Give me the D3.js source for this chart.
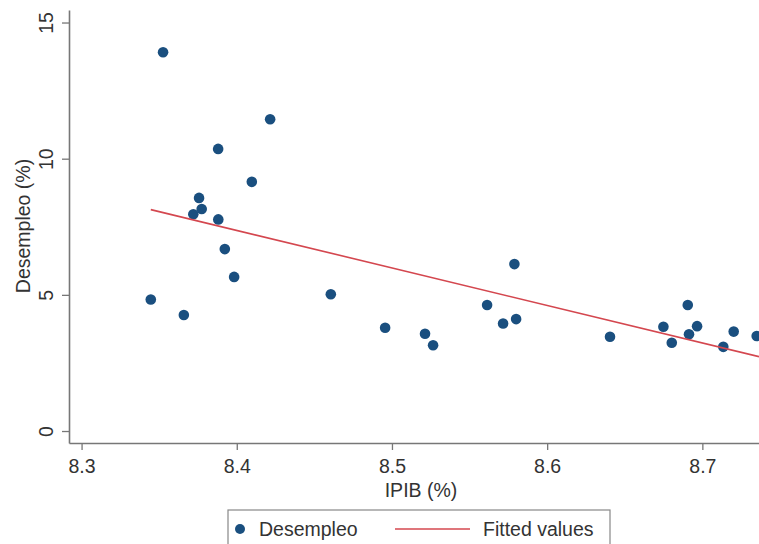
<!DOCTYPE html>
<html>
<head>
<meta charset="utf-8">
<script src="https://cdn.jsdelivr.net/npm/d3@7"></script>
<style>
  html, body { margin: 0; padding: 0; background: #fff; }
  svg { display: block; font-family: "Liberation Sans", Arial, sans-serif; }
</style>
</head>
<body>
<svg id="chart" width="759" height="544"></svg>
<script>
// Data
const ipib = [8.3525, 8.4215, 8.3880, 8.4097, 8.3757, 8.3774, 8.3720, 8.3881, 8.3923, 8.3983,
              8.3446, 8.3659, 8.4606, 8.4956, 8.5213, 8.5265, 8.5613, 8.5716, 8.5800, 8.5789,
              8.6405, 8.6749, 8.6803, 8.6906, 8.6966, 8.6914, 8.7135, 8.7202, 8.7350];
const desempleo = [13.91, 11.45, 10.36, 9.15, 8.56, 8.15, 7.96, 7.77, 6.68, 5.66,
                   4.83, 4.26, 5.02, 3.79, 3.57, 3.15, 4.63, 3.95, 4.11, 6.13,
                   3.46, 3.83, 3.24, 4.63, 3.85, 3.55, 3.09, 3.65, 3.49];
const fittedX = [8.3446, 8.7365];
const fittedY = [8.13, 2.73];
const xTicks = [8.3, 8.4, 8.5, 8.6, 8.7];
const yTicks = [0, 5, 10, 15];
const xTitle = "IPIB (%)";
const yTitle = "Desempleo (%)";
const legendLabels = ["Desempleo", "Fitted values"];

const svg = d3.select("#chart");
const fontSize = 19.5;
const textColor = "#333";
const axisColor = "#777";
const pointColor = "#1a4f7f";
const lineColor = "#d4474f";

const x = d3.scaleLinear().domain([8.2919, 8.7365]).range([69, 759]);
const y = d3.scaleLinear().domain([-0.44, 15.46]).range([443, 10]);

// clip for plot region
svg.append("defs").append("clipPath").attr("id", "plotclip")
  .append("rect").attr("x", 69).attr("y", 0).attr("width", 700).attr("height", 443);

// Y axis
const yAxis = svg.append("g").attr("transform", "translate(69,0)")
  .call(d3.axisLeft(y).tickValues(yTicks).tickSize(7).tickSizeOuter(0).tickFormat(d3.format("d")));
yAxis.select(".domain").attr("stroke", axisColor).attr("stroke-width", 1.6);
yAxis.selectAll(".tick line").attr("stroke", axisColor).attr("stroke-width", 1.3);
yAxis.selectAll(".tick text")
  .attr("transform", "rotate(-90)")
  .attr("x", 0).attr("y", -16).attr("dy", 0)
  .attr("text-anchor", "middle")
  .attr("fill", textColor)
  .style("font-size", fontSize + "px")
  .style("font-family", "'Liberation Sans', Arial, sans-serif");

// X axis
const xAxis = svg.append("g").attr("transform", "translate(0,443)")
  .call(d3.axisBottom(x).tickValues(xTicks).tickSize(7).tickSizeOuter(0).tickFormat(d3.format(".1f")));
xAxis.select(".domain").attr("stroke", axisColor).attr("stroke-width", 1.6);
xAxis.selectAll(".tick line").attr("stroke", axisColor).attr("stroke-width", 1.3);
xAxis.selectAll(".tick text")
  .attr("y", 30).attr("dy", 0)
  .attr("fill", textColor)
  .style("font-size", fontSize + "px")
  .style("font-family", "'Liberation Sans', Arial, sans-serif");

// Axis titles
svg.append("text")
  .attr("transform", "translate(30,226) rotate(-90)")
  .attr("text-anchor", "middle")
  .attr("fill", textColor)
  .style("font-size", fontSize + "px")
  .text(yTitle);

svg.append("text")
  .attr("x", 421).attr("y", 497)
  .attr("text-anchor", "middle")
  .attr("fill", textColor)
  .style("font-size", fontSize + "px")
  .text(xTitle);

// Plot
const plot = svg.append("g").attr("clip-path", "url(#plotclip)");
const pts = ipib.map((v, i) => ({ x: v, y: desempleo[i] }));
plot.selectAll("circle.pt").data(pts).join("circle")
  .attr("class", "pt")
  .attr("cx", d => x(d.x)).attr("cy", d => y(d.y))
  .attr("r", 5.3)
  .attr("fill", pointColor);

const fitPts = fittedX.map((v, i) => [v, fittedY[i]]);
plot.append("path")
  .datum(fitPts)
  .attr("d", d3.line().x(d => x(d[0])).y(d => y(d[1])))
  .attr("fill", "none")
  .attr("stroke", lineColor)
  .attr("stroke-width", 1.6);

// Legend
const lg = svg.append("g");
lg.append("rect")
  .attr("x", 228).attr("y", 510).attr("width", 382).attr("height", 50)
  .attr("fill", "#fff").attr("stroke", "#888").attr("stroke-width", 1.2);
lg.append("circle").attr("cx", 240).attr("cy", 529).attr("r", 5).attr("fill", pointColor);
lg.append("text").attr("x", 259).attr("y", 536)
  .attr("fill", textColor).style("font-size", fontSize + "px").text(legendLabels[0]);
lg.append("line").attr("x1", 395).attr("x2", 470).attr("y1", 529).attr("y2", 529)
  .attr("stroke", lineColor).attr("stroke-width", 1.6);
lg.append("text").attr("x", 483).attr("y", 536)
  .attr("fill", textColor).style("font-size", fontSize + "px").text(legendLabels[1]);
</script>
</body>
</html>
